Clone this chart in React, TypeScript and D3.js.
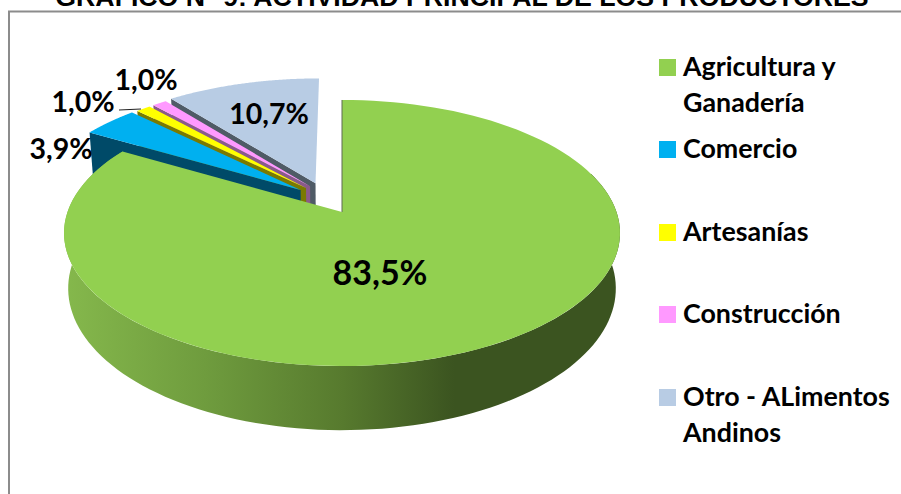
import React from "react";
import * as d3 from "d3";

const categories = ["Agricultura y Ganadería", "Comercio", "Artesanías", "Construcción", "Otro - ALimentos Andinos"];
const values = [83.5, 3.9, 1.0, 1.0, 10.7];
const valueLabels = ["83,5%", "3,9%", "1,0%", "1,0%", "10,7%"];
const topColors = ["#92d050", "#00b0f0", "#ffff00", "#ff99ff", "#b8cce4"];
const wallColors = ["#5a7f30", "#004a68", "#7a7a00", "#8a5a8a", "#4f5b66"];
const explodeU = [0, -0.155, -0.135, -0.12, -0.1];
const explodeV = [0, -0.175, -0.19, -0.205, -0.23];
const legendLines = [["Agricultura y", "Ganadería"], ["Comercio"], ["Artesanías"], ["Construcción"], ["Otro - ALimentos", "Andinos"]];
const legendY = [59, 141, 224, 306, 389];
const labelPos = [[380, 285], [61, 159], [83, 112], [146, 90], [269, 124]];
const titleText = "GRAFICO N° 9: ACTIVIDAD PRINCIPAL DE LOS PRODUCTORES";

const W = 901, H = 494, CX = 342, CY = 212, R = 274.5, S = 129.7, K = 0.158, D = 54, RB = 0.985;
const FONT = "Lato, 'Noto Sans', sans-serif";

type P = [number, number];
const topP = (u: number, v: number): P => {
  const w = 1 - K * v;
  return [CX + (R * u) / w, CY + (S * v) / w];
};
const botP = (u: number, v: number): P => {
  const w = 1 - K * v;
  return [CX + (R * RB * u) / w, CY + (S * v + D) / w];
};
const line = d3.line<P>().x((d) => d[0]).y((d) => d[1]).curve(d3.curveLinear);
const arcs = d3.pie<number>().sort(null)(values);

function rimPts(a0: number, a1: number, i: number, fn: (u: number, v: number) => P): P[] {
  const t = d3.scaleLinear().domain([0, 120]).range([a0, a1]);
  return d3.range(121).map((k) => {
    const a = t(k);
    return fn(Math.sin(a) + explodeU[i], -Math.cos(a) + explodeV[i]);
  });
}
const closed = (pts: P[]) => (line(pts) as string) + "Z";

function App() {
  return (
    <svg width={W} height={H} style={{ position: "absolute", left: 0, top: 0, display: "block", background: "#fff" }}>
      <defs>
        <linearGradient id="rim" gradientUnits="userSpaceOnUse" x1={65} x2={621} y1={0} y2={0}>
          <stop offset="0" stopColor="#85b84c" />
          <stop offset="0.25" stopColor="#6f9c3e" />
          <stop offset="0.5" stopColor="#577a2e" />
          <stop offset="0.7" stopColor="#3b5420" />
          <stop offset="1" stopColor="#3b5420" />
        </linearGradient>
      </defs>
      <path d={`M9 ${H}V11.5H${W}`} fill="none" stroke="#8c8c8c" strokeWidth={2} />
      <text x={462} y={6} textAnchor="middle" fontFamily="'Liberation Sans', Arial, sans-serif" fontWeight={700} fontSize={26.7}>{titleText}</text>

      {[4, 3, 2, 1, 0].map((i) => {
        const a = arcs[i];
        const apexT = topP(explodeU[i], explodeV[i]);
        const apexB = botP(explodeU[i], explodeV[i]);
        const startT = rimPts(a.startAngle, a.startAngle, i, topP)[0];
        const startB = rimPts(a.startAngle, a.startAngle, i, botP)[0];
        const top = rimPts(a.startAngle, a.endAngle, i, topP);
        return (
          <g key={categories[i]}>
            {i > 0 && <path d={closed([startT, apexT, apexB, startB])} fill={wallColors[i]} />}
            {i === 0 && (
              <path
                d={closed([...rimPts(Math.PI * 0.4, a.endAngle, 0, topP), ...rimPts(Math.PI * 0.4, a.endAngle, 0, botP).reverse()])}
                fill="url(#rim)"
              />
            )}
            <path d={closed([apexT, ...top])} fill={topColors[i]} />
            {i === 0 && <path d={line([startT, apexT]) as string} stroke="#5f6b52" strokeWidth={1} fill="none" />}
          </g>
        );
      })}

      <line x1={119} x2={141} y1={110} y2={109} stroke="#222" strokeWidth={1} />
      {valueLabels.map((t, i) => (
        <text key={i} x={labelPos[i][0]} y={labelPos[i][1]} textAnchor="middle" fontFamily={FONT} fontWeight={700} fontSize={i === 0 ? 34 : 28.5}>{t}</text>
      ))}

      {categories.map((c, i) => (
        <g key={c}>
          <rect x={659} y={legendY[i]} width={17} height={17} fill={topColors[i]} />
          {legendLines[i].map((l, j) => (
            <text key={l} x={683} y={legendY[i] + 17 + j * 36} fontFamily={FONT} fontWeight={700} fontSize={26.8}>{l}</text>
          ))}
        </g>
      ))}
    </svg>
  );
}
export default App;
